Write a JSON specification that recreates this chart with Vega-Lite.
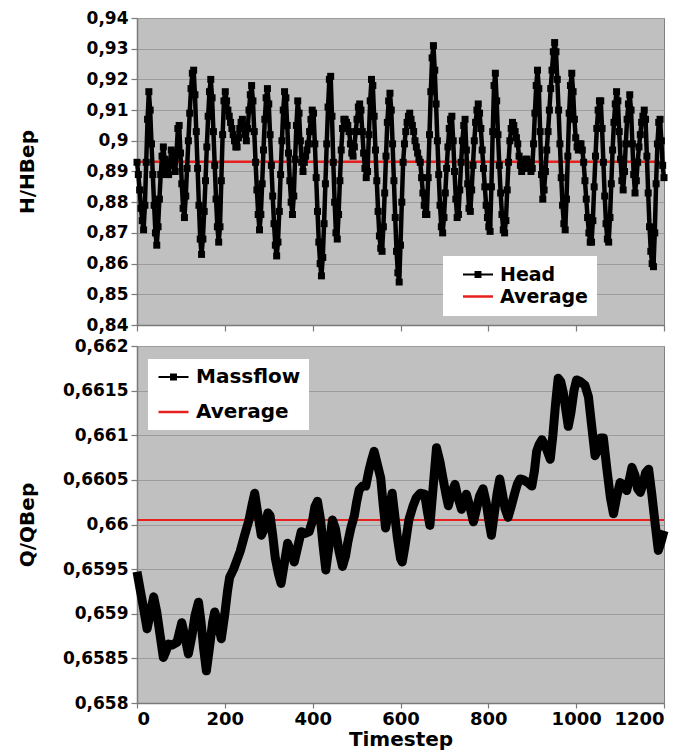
{
  "$schema": "https://vega.github.io/schema/vega-lite/v6.json",
  "padding": {"left": 16, "top": 8, "right": 10, "bottom": 2},
  "background": "white",
  "bounds": "flush",
  "spacing": 21,
  "config": {
    "locale": {"number": {"decimal": ",", "thousands": ".", "grouping": [3], "currency": ["", " €"]}},
    "view": {"fill": "#c0c0c0", "stroke": "#808080", "strokeWidth": 1},
    "axis": {
      "labelFont": "DejaVu Sans", "labelFontWeight": "bold", "labelFontSize": 17, "labelColor": "#000000",
      "titleFont": "DejaVu Sans", "titleFontWeight": "bold", "titleFontSize": 20, "titleColor": "#000000",
      "domainColor": "#7a7a7a", "domainWidth": 1.5, "tickColor": "#7a7a7a", "tickSize": 6, "tickWidth": 1.2,
      "gridColor": "#9c9c9c", "gridWidth": 1, "labelPadding": 3, "labelOverlap": false
    }
  },
  "resolve": {"scale": {"color": "independent"}, "legend": {"color": "independent"}},
  "vconcat": [
    {
      "width": 527,
      "height": 307,
      "data": {"values": [
        {"t":0,"h":0.893},{"t":3,"h":0.889},{"t":6,"h":0.884},{"t":9,"h":0.878},{"t":12,"h":0.874},{"t":15,"h":0.871},{"t":18,"h":0.879},{"t":21,"h":0.893},{"t":24,"h":0.907},{"t":27,"h":0.916},
        {"t":30,"h":0.910},{"t":33,"h":0.899},{"t":36,"h":0.889},{"t":39,"h":0.879},{"t":42,"h":0.870},{"t":45,"h":0.866},{"t":48,"h":0.872},{"t":51,"h":0.881},{"t":54,"h":0.889},{"t":57,"h":0.895},
        {"t":60,"h":0.898},{"t":63,"h":0.894},{"t":66,"h":0.891},{"t":69,"h":0.889},{"t":72,"h":0.889},{"t":75,"h":0.893},{"t":78,"h":0.897},{"t":81,"h":0.895},{"t":84,"h":0.892},{"t":87,"h":0.890},
        {"t":90,"h":0.896},{"t":93,"h":0.904},{"t":96,"h":0.905},{"t":99,"h":0.896},{"t":102,"h":0.886},{"t":105,"h":0.878},{"t":108,"h":0.875},{"t":111,"h":0.882},{"t":114,"h":0.891},{"t":117,"h":0.900},
        {"t":120,"h":0.909},{"t":123,"h":0.917},{"t":126,"h":0.922},{"t":129,"h":0.923},{"t":132,"h":0.915},{"t":135,"h":0.903},{"t":138,"h":0.891},{"t":141,"h":0.879},{"t":144,"h":0.868},{"t":147,"h":0.863},
        {"t":150,"h":0.868},{"t":153,"h":0.877},{"t":156,"h":0.887},{"t":159,"h":0.898},{"t":162,"h":0.908},{"t":165,"h":0.916},{"t":168,"h":0.920},{"t":171,"h":0.914},{"t":174,"h":0.903},{"t":177,"h":0.892},
        {"t":180,"h":0.881},{"t":183,"h":0.872},{"t":186,"h":0.867},{"t":189,"h":0.872},{"t":192,"h":0.887},{"t":195,"h":0.902},{"t":198,"h":0.913},{"t":201,"h":0.916},{"t":204,"h":0.913},{"t":207,"h":0.910},
        {"t":210,"h":0.908},{"t":213,"h":0.906},{"t":216,"h":0.904},{"t":219,"h":0.902},{"t":222,"h":0.900},{"t":225,"h":0.898},{"t":228,"h":0.898},{"t":231,"h":0.901},{"t":234,"h":0.904},{"t":237,"h":0.906},
        {"t":240,"h":0.907},{"t":243,"h":0.905},{"t":246,"h":0.902},{"t":249,"h":0.900},{"t":252,"h":0.904},{"t":255,"h":0.910},{"t":258,"h":0.915},{"t":261,"h":0.918},{"t":264,"h":0.913},{"t":267,"h":0.903},
        {"t":270,"h":0.893},{"t":273,"h":0.884},{"t":276,"h":0.876},{"t":279,"h":0.871},{"t":282,"h":0.876},{"t":285,"h":0.886},{"t":288,"h":0.897},{"t":291,"h":0.907},{"t":294,"h":0.914},{"t":297,"h":0.917},
        {"t":300,"h":0.912},{"t":303,"h":0.902},{"t":306,"h":0.892},{"t":309,"h":0.882},{"t":312,"h":0.873},{"t":315,"h":0.866},{"t":318,"h":0.8625},{"t":321,"h":0.867},{"t":324,"h":0.877},{"t":327,"h":0.889},
        {"t":330,"h":0.900},{"t":333,"h":0.910},{"t":336,"h":0.916},{"t":339,"h":0.914},{"t":342,"h":0.905},{"t":345,"h":0.896},{"t":348,"h":0.887},{"t":351,"h":0.880},{"t":354,"h":0.876},{"t":357,"h":0.882},
        {"t":360,"h":0.894},{"t":363,"h":0.905},{"t":366,"h":0.913},{"t":369,"h":0.909},{"t":372,"h":0.900},{"t":375,"h":0.893},{"t":378,"h":0.890},{"t":381,"h":0.893},{"t":384,"h":0.895},{"t":387,"h":0.897},
        {"t":390,"h":0.899},{"t":393,"h":0.903},{"t":396,"h":0.907},{"t":399,"h":0.910},{"t":402,"h":0.909},{"t":405,"h":0.899},{"t":408,"h":0.888},{"t":411,"h":0.877},{"t":414,"h":0.867},{"t":417,"h":0.860},
        {"t":420,"h":0.856},{"t":423,"h":0.862},{"t":426,"h":0.873},{"t":429,"h":0.886},{"t":432,"h":0.899},{"t":435,"h":0.911},{"t":438,"h":0.920},{"t":441,"h":0.921},{"t":444,"h":0.908},{"t":447,"h":0.893},
        {"t":450,"h":0.880},{"t":453,"h":0.870},{"t":456,"h":0.868},{"t":459,"h":0.876},{"t":462,"h":0.887},{"t":465,"h":0.897},{"t":468,"h":0.904},{"t":471,"h":0.907},{"t":474,"h":0.907},{"t":477,"h":0.906},
        {"t":480,"h":0.905},{"t":483,"h":0.903},{"t":486,"h":0.899},{"t":489,"h":0.896},{"t":492,"h":0.895},{"t":495,"h":0.898},{"t":498,"h":0.903},{"t":501,"h":0.907},{"t":504,"h":0.911},{"t":507,"h":0.912},
        {"t":510,"h":0.910},{"t":513,"h":0.903},{"t":516,"h":0.896},{"t":519,"h":0.891},{"t":522,"h":0.888},{"t":525,"h":0.890},{"t":528,"h":0.902},{"t":531,"h":0.913},{"t":534,"h":0.920},{"t":537,"h":0.918},
        {"t":540,"h":0.908},{"t":543,"h":0.897},{"t":546,"h":0.887},{"t":549,"h":0.877},{"t":552,"h":0.869},{"t":555,"h":0.865},{"t":558,"h":0.864},{"t":561,"h":0.872},{"t":564,"h":0.883},{"t":567,"h":0.895},
        {"t":570,"h":0.906},{"t":573,"h":0.913},{"t":576,"h":0.9155},{"t":579,"h":0.910},{"t":582,"h":0.899},{"t":585,"h":0.887},{"t":588,"h":0.875},{"t":591,"h":0.864},{"t":594,"h":0.857},{"t":597,"h":0.854},
        {"t":600,"h":0.866},{"t":603,"h":0.880},{"t":606,"h":0.893},{"t":609,"h":0.899},{"t":612,"h":0.903},{"t":615,"h":0.906},{"t":618,"h":0.908},{"t":621,"h":0.909},{"t":624,"h":0.907},{"t":627,"h":0.905},
        {"t":630,"h":0.903},{"t":633,"h":0.900},{"t":636,"h":0.898},{"t":639,"h":0.896},{"t":642,"h":0.894},{"t":645,"h":0.893},{"t":648,"h":0.888},{"t":651,"h":0.883},{"t":654,"h":0.879},{"t":657,"h":0.876},
        {"t":660,"h":0.876},{"t":663,"h":0.888},{"t":666,"h":0.902},{"t":669,"h":0.916},{"t":672,"h":0.927},{"t":675,"h":0.931},{"t":678,"h":0.923},{"t":681,"h":0.912},{"t":684,"h":0.900},{"t":687,"h":0.889},
        {"t":690,"h":0.879},{"t":693,"h":0.872},{"t":696,"h":0.870},{"t":699,"h":0.875},{"t":702,"h":0.883},{"t":705,"h":0.891},{"t":708,"h":0.898},{"t":711,"h":0.904},{"t":714,"h":0.907},{"t":717,"h":0.908},
        {"t":720,"h":0.900},{"t":723,"h":0.890},{"t":726,"h":0.881},{"t":729,"h":0.875},{"t":732,"h":0.876},{"t":735,"h":0.884},{"t":738,"h":0.893},{"t":741,"h":0.900},{"t":744,"h":0.905},{"t":747,"h":0.907},
        {"t":750,"h":0.897},{"t":753,"h":0.886},{"t":756,"h":0.878},{"t":759,"h":0.877},{"t":762,"h":0.884},{"t":765,"h":0.892},{"t":768,"h":0.900},{"t":771,"h":0.906},{"t":774,"h":0.910},{"t":777,"h":0.912},
        {"t":780,"h":0.909},{"t":783,"h":0.904},{"t":786,"h":0.897},{"t":789,"h":0.891},{"t":792,"h":0.885},{"t":795,"h":0.879},{"t":798,"h":0.875},{"t":801,"h":0.872},{"t":804,"h":0.8705},{"t":807,"h":0.885},
        {"t":810,"h":0.903},{"t":813,"h":0.918},{"t":816,"h":0.922},{"t":819,"h":0.913},{"t":822,"h":0.902},{"t":825,"h":0.892},{"t":828,"h":0.883},{"t":831,"h":0.876},{"t":834,"h":0.871},{"t":837,"h":0.870},
        {"t":840,"h":0.874},{"t":843,"h":0.884},{"t":846,"h":0.893},{"t":849,"h":0.900},{"t":852,"h":0.904},{"t":855,"h":0.906},{"t":858,"h":0.905},{"t":861,"h":0.903},{"t":864,"h":0.901},{"t":867,"h":0.899},
        {"t":870,"h":0.895},{"t":873,"h":0.892},{"t":876,"h":0.890},{"t":879,"h":0.891},{"t":882,"h":0.893},{"t":885,"h":0.894},{"t":888,"h":0.894},{"t":891,"h":0.893},{"t":894,"h":0.891},{"t":897,"h":0.890},
        {"t":900,"h":0.891},{"t":903,"h":0.899},{"t":906,"h":0.909},{"t":909,"h":0.918},{"t":912,"h":0.923},{"t":915,"h":0.917},{"t":918,"h":0.903},{"t":921,"h":0.889},{"t":924,"h":0.881},{"t":927,"h":0.884},
        {"t":930,"h":0.890},{"t":933,"h":0.897},{"t":936,"h":0.903},{"t":939,"h":0.910},{"t":942,"h":0.917},{"t":945,"h":0.923},{"t":948,"h":0.929},{"t":951,"h":0.932},{"t":954,"h":0.929},{"t":957,"h":0.920},
        {"t":960,"h":0.910},{"t":963,"h":0.899},{"t":966,"h":0.888},{"t":969,"h":0.879},{"t":972,"h":0.873},{"t":975,"h":0.871},{"t":978,"h":0.881},{"t":981,"h":0.895},{"t":984,"h":0.909},{"t":987,"h":0.918},
        {"t":990,"h":0.922},{"t":993,"h":0.916},{"t":996,"h":0.907},{"t":999,"h":0.901},{"t":1002,"h":0.898},{"t":1005,"h":0.897},{"t":1008,"h":0.899},{"t":1011,"h":0.899},{"t":1014,"h":0.897},{"t":1017,"h":0.893},
        {"t":1020,"h":0.887},{"t":1023,"h":0.881},{"t":1026,"h":0.875},{"t":1029,"h":0.870},{"t":1032,"h":0.867},{"t":1035,"h":0.867},{"t":1038,"h":0.874},{"t":1041,"h":0.885},{"t":1044,"h":0.895},{"t":1047,"h":0.904},
        {"t":1050,"h":0.910},{"t":1053,"h":0.913},{"t":1056,"h":0.913},{"t":1059,"h":0.904},{"t":1062,"h":0.893},{"t":1065,"h":0.882},{"t":1068,"h":0.873},{"t":1071,"h":0.868},{"t":1074,"h":0.867},{"t":1077,"h":0.875},
        {"t":1080,"h":0.886},{"t":1083,"h":0.897},{"t":1086,"h":0.906},{"t":1089,"h":0.912},{"t":1092,"h":0.916},{"t":1095,"h":0.913},{"t":1098,"h":0.903},{"t":1101,"h":0.894},{"t":1104,"h":0.887},{"t":1107,"h":0.884},
        {"t":1110,"h":0.890},{"t":1113,"h":0.899},{"t":1116,"h":0.907},{"t":1119,"h":0.912},{"t":1122,"h":0.915},{"t":1125,"h":0.910},{"t":1128,"h":0.899},{"t":1131,"h":0.889},{"t":1134,"h":0.883},{"t":1137,"h":0.887},
        {"t":1140,"h":0.893},{"t":1143,"h":0.898},{"t":1146,"h":0.902},{"t":1149,"h":0.906},{"t":1152,"h":0.908},{"t":1155,"h":0.910},{"t":1158,"h":0.907},{"t":1161,"h":0.895},{"t":1164,"h":0.883},{"t":1167,"h":0.872},
        {"t":1170,"h":0.864},{"t":1173,"h":0.860},{"t":1176,"h":0.859},{"t":1179,"h":0.870},{"t":1182,"h":0.886},{"t":1185,"h":0.899},{"t":1188,"h":0.906},{"t":1191,"h":0.907},{"t":1194,"h":0.900},{"t":1197,"h":0.892},
        {"t":1200,"h":0.888}
      ]},
      "encoding": {
        "y": {"field": "h", "type": "quantitative", "title": "H/HBep",
              "scale": {"domain": [0.84, 0.94], "nice": false, "zero": false},
              "axis": {"values": [0.84, 0.85, 0.86, 0.87, 0.88, 0.89, 0.9, 0.91, 0.92, 0.93, 0.94], "tickCount": 11, "format": ".2~f", "title": "H/HBep", "titleX": -100, "grid": true}}
      },
      "layer": [
        {
          "data": {"values": [{"h": 0.8932}]},
          "mark": {"type": "rule", "strokeWidth": 2.5},
          "encoding": {
            "color": {"datum": "Average"}
          }
        },
        {
          "mark": {"type": "line", "strokeWidth": 4.5, "strokeJoin": "round"},
          "encoding": {
            "x": {"field": "t", "type": "quantitative", "title": null,
                  "scale": {"domain": [0, 1200], "nice": false},
                  "axis": {"values": [0, 200, 400, 600, 800, 1000, 1200], "labels": false, "grid": false, "title": null}},
            "color": {"datum": "Head",
                      "scale": {"domain": ["Head", "Average"], "range": ["#000000", "#e5201e"]},
                      "legend": {
                        "orient": "none", "legendX": 306, "legendY": 238, "title": null,
                        "fillColor": "#ffffff", "padding": 9, "symbolOffset": 9,
                        "labelFont": "DejaVu Sans", "labelFontWeight": "bold", "labelFontSize": 19, "labelColor": "#000000",
                        "symbolSize": 225, "labelOffset": 20, "rowPadding": 2,
                        "encode": {"symbols": {"update": {
                          "shape": {"signal": "datum.value === 'Head' ? 'M-1,0L3,0M0.67,-0.33H1.33V0.33H0.67Z' : 'M-1,0L3,0'"},
                          "fill": {"signal": "datum.value === 'Head' ? '#000000' : 'transparent'"},
                          "strokeWidth": {"signal": "datum.value === 'Head' ? 2 : 2.5"},
                          "opacity": {"value": 1}
                        }}}
                      }}
          }
        },
        {
          "mark": {"type": "point", "shape": "square", "filled": true, "size": 49, "opacity": 1, "color": "#000000"},
          "encoding": {
            "x": {"field": "t", "type": "quantitative", "title": null}
          }
        }
      ]
    },
    {
      "width": 527,
      "height": 357,
      "data": {"values": [
        {"t":0,"q":0.65947},{"t":8,"q":0.65925},{"t":15,"q":0.65906},{"t":23,"q":0.65883},{"t":30,"q":0.65900},{"t":38,"q":0.65919},{"t":45,"q":0.65902},{"t":52,"q":0.65878},{"t":60,"q":0.65851},{"t":66,"q":0.65858},
        {"t":72,"q":0.65866},{"t":80,"q":0.65865},{"t":91,"q":0.65868},{"t":102,"q":0.65890},{"t":110,"q":0.65872},{"t":117,"q":0.65855},{"t":125,"q":0.65875},{"t":132,"q":0.65898},{"t":140,"q":0.65913},{"t":146,"q":0.65890},
        {"t":152,"q":0.65860},{"t":158,"q":0.65836},{"t":165,"q":0.65862},{"t":172,"q":0.65890},{"t":177,"q":0.65902},{"t":184,"q":0.65890},{"t":192,"q":0.65872},{"t":200,"q":0.65900},{"t":206,"q":0.65925},{"t":211,"q":0.65941},
        {"t":220,"q":0.65950},{"t":226,"q":0.65958},{"t":235,"q":0.65970},{"t":245,"q":0.65988},{"t":255,"q":0.66005},{"t":262,"q":0.66022},{"t":268,"q":0.66035},{"t":275,"q":0.66012},{"t":283,"q":0.65988},{"t":290,"q":0.65995},
        {"t":298,"q":0.66013},{"t":303,"q":0.66010},{"t":309,"q":0.65988},{"t":315,"q":0.65962},{"t":322,"q":0.65945},{"t":328,"q":0.65934},{"t":335,"q":0.65955},{"t":343,"q":0.65979},{"t":350,"q":0.65970},{"t":358,"q":0.65958},
        {"t":366,"q":0.65975},{"t":374,"q":0.65992},{"t":383,"q":0.65990},{"t":392,"q":0.65992},{"t":400,"q":0.66005},{"t":405,"q":0.66020},{"t":411,"q":0.66026},{"t":418,"q":0.66005},{"t":424,"q":0.65975},{"t":430,"q":0.65949},
        {"t":437,"q":0.65975},{"t":445,"q":0.66005},{"t":452,"q":0.65995},{"t":460,"q":0.65970},{"t":468,"q":0.65953},{"t":475,"q":0.65965},{"t":480,"q":0.65980},{"t":487,"q":0.65996},{"t":495,"q":0.66010},{"t":500,"q":0.66025},
        {"t":506,"q":0.66039},{"t":513,"q":0.66043},{"t":521,"q":0.66043},{"t":528,"q":0.66060},{"t":534,"q":0.66072},{"t":540,"q":0.66082},{"t":547,"q":0.66068},{"t":555,"q":0.66052},{"t":560,"q":0.66025},{"t":566,"q":0.65996},
        {"t":573,"q":0.66015},{"t":581,"q":0.66035},{"t":587,"q":0.66010},{"t":593,"q":0.65985},{"t":600,"q":0.65962},{"t":604,"q":0.65958},{"t":610,"q":0.65975},{"t":619,"q":0.66005},{"t":628,"q":0.66020},{"t":636,"q":0.66030},
        {"t":645,"q":0.66035},{"t":655,"q":0.66034},{"t":661,"q":0.66015},{"t":667,"q":0.65999},{"t":674,"q":0.66040},{"t":682,"q":0.66086},{"t":690,"q":0.66070},{"t":697,"q":0.66051},{"t":703,"q":0.66035},{"t":709,"q":0.66021},
        {"t":716,"q":0.66035},{"t":724,"q":0.66045},{"t":731,"q":0.66030},{"t":739,"q":0.66017},{"t":745,"q":0.66027},{"t":750,"q":0.66034},{"t":758,"q":0.66020},{"t":766,"q":0.66003},{"t":772,"q":0.66015},{"t":780,"q":0.66032},
        {"t":788,"q":0.66040},{"t":795,"q":0.66025},{"t":801,"q":0.66005},{"t":807,"q":0.65988},{"t":813,"q":0.66010},{"t":820,"q":0.66035},{"t":826,"q":0.66051},{"t":832,"q":0.66035},{"t":838,"q":0.66018},{"t":845,"q":0.66008},
        {"t":852,"q":0.66020},{"t":860,"q":0.66035},{"t":866,"q":0.66045},{"t":872,"q":0.66051},{"t":880,"q":0.66050},{"t":890,"q":0.66047},{"t":899,"q":0.66043},{"t":905,"q":0.66060},{"t":910,"q":0.66082},{"t":916,"q":0.66090},
        {"t":922,"q":0.66095},{"t":930,"q":0.66088},{"t":941,"q":0.66073},{"t":947,"q":0.66100},{"t":953,"q":0.66135},{"t":959,"q":0.66164},{"t":965,"q":0.66160},{"t":971,"q":0.66147},{"t":976,"q":0.66130},{"t":982,"q":0.66110},
        {"t":988,"q":0.66125},{"t":995,"q":0.66150},{"t":1001,"q":0.66162},{"t":1010,"q":0.66160},{"t":1020,"q":0.66156},{"t":1028,"q":0.66143},{"t":1035,"q":0.66112},{"t":1043,"q":0.66077},{"t":1050,"q":0.66085},{"t":1056,"q":0.66097},
        {"t":1062,"q":0.66097},{"t":1070,"q":0.66062},{"t":1078,"q":0.66030},{"t":1085,"q":0.66012},{"t":1092,"q":0.66030},{"t":1100,"q":0.66047},{"t":1107,"q":0.66045},{"t":1115,"q":0.66038},{"t":1121,"q":0.66050},{"t":1127,"q":0.66064},
        {"t":1134,"q":0.66055},{"t":1140,"q":0.66040},{"t":1146,"q":0.66036},{"t":1152,"q":0.66045},{"t":1158,"q":0.66058},{"t":1165,"q":0.66062},{"t":1172,"q":0.66035},{"t":1180,"q":0.66000},{"t":1187,"q":0.65971},{"t":1193,"q":0.65980},
        {"t":1200,"q":0.65993}
      ]},
      "encoding": {
        "y": {"field": "q", "type": "quantitative", "title": "Q/QBep",
              "scale": {"domain": [0.658, 0.662], "nice": false, "zero": false},
              "axis": {"values": [0.658, 0.6585, 0.659, 0.6595, 0.66, 0.6605, 0.661, 0.6615, 0.662], "tickCount": 9, "format": ".4~f", "title": "Q/QBep", "titleX": -100, "grid": true}}
      },
      "layer": [
        {
          "data": {"values": [{"q": 0.66005}]},
          "mark": {"type": "rule", "strokeWidth": 2},
          "encoding": {
            "color": {"datum": "Average"}
          }
        },
        {
          "mark": {"type": "line", "strokeWidth": 9, "strokeJoin": "round", "strokeCap": "butt"},
          "encoding": {
            "x": {"field": "t", "type": "quantitative", "title": "Timestep",
                  "scale": {"domain": [0, 1200], "nice": false},
                  "axis": {"values": [0, 200, 400, 600, 800, 1000, 1200], "format": "d", "grid": false, "title": "Timestep", "tickSize": 5, "labelPadding": 2, "titlePadding": 1, "labelFontSize": 18}},
            "color": {"datum": "Massflow",
                      "scale": {"domain": ["Massflow", "Average"], "range": ["#000000", "#e5201e"]},
                      "legend": {
                        "orient": "none", "legendX": 11, "legendY": 13, "title": null,
                        "fillColor": "#ffffff", "padding": 8,
                        "labelFont": "DejaVu Sans", "labelFontWeight": "bold", "labelFontSize": 20, "labelColor": "#000000",
                        "symbolSize": 225, "labelOffset": 20, "rowPadding": 15,
                        "encode": {"symbols": {"update": {
                          "shape": {"signal": "datum.value === 'Massflow' ? 'M-1,0L3,0M0.67,-0.33H1.33V0.33H0.67Z' : 'M-1,0L3,0'"},
                          "fill": {"signal": "datum.value === 'Massflow' ? '#000000' : 'transparent'"},
                          "strokeWidth": {"signal": "datum.value === 'Massflow' ? 2 : 2.5"},
                          "opacity": {"value": 1}
                        }}}
                      }}
          }
        }
      ]
    }
  ]
}
